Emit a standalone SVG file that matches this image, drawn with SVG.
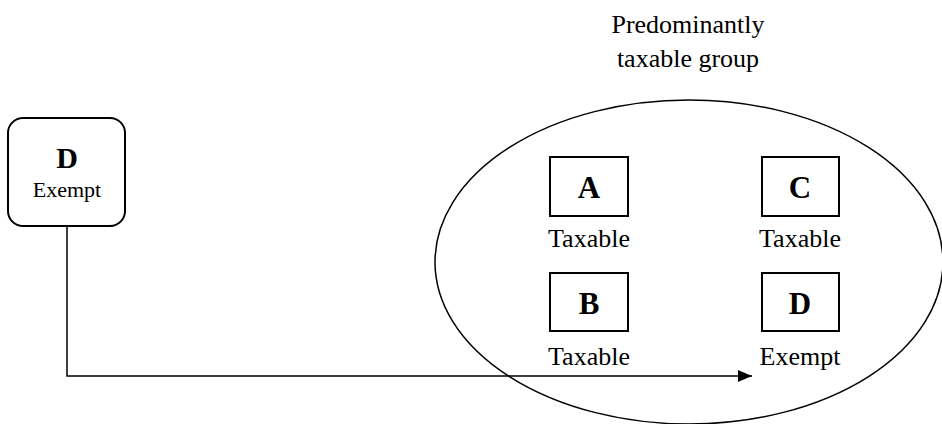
<svg xmlns="http://www.w3.org/2000/svg" width="942" height="424" viewBox="0 0 942 424">
<defs>
<style>
.box{fill:#fff;stroke:#000;stroke-width:2}
.let{font-family:"Liberation Serif",serif;font-weight:bold;font-size:31px;text-anchor:middle}
.lbl{font-family:"Liberation Serif",serif;font-size:26px;text-anchor:middle}
.ttl{font-family:"Liberation Serif",serif;font-size:26px;text-anchor:middle}
.ln{fill:none;stroke:#000;stroke-width:1.5}
</style>
<marker id="arr" markerWidth="14" markerHeight="12" refX="14" refY="6" orient="auto" markerUnits="userSpaceOnUse">
<path d="M0,0 L14,6 L0,12 Z" fill="#000"/>
</marker>
</defs>
<rect width="942" height="424" fill="#fff"/>
<g id="group">
<ellipse cx="689" cy="262" rx="254" ry="162" class="ln"/>
<text class="ttl" x="688" y="33">Predominantly</text>
<text class="ttl" x="688" y="67">taxable group</text>
</g>
<g id="connectors">
<path d="M67,226 L67,376 L752,376" class="ln" marker-end="url(#arr)"/>
</g>
<g id="nodeDext">
<rect x="8" y="118" width="117" height="108" rx="15" class="box"/>
<text class="let" x="67" y="168" style="font-size:30px">D</text>
<text class="lbl" x="67" y="197" style="font-size:22px">Exempt</text>
</g>
<g id="nodeA">
<rect x="550" y="157" width="78" height="59" class="box"/>
<text class="let" x="589" y="198">A</text>
<text class="lbl" x="589" y="247">Taxable</text>
</g>
<g id="nodeC">
<rect x="762" y="157" width="77" height="59" class="box"/>
<text class="let" x="800" y="198">C</text>
<text class="lbl" x="800" y="247">Taxable</text>
</g>
<g id="nodeB">
<rect x="550" y="273" width="78" height="58" class="box"/>
<text class="let" x="589" y="314">B</text>
<text class="lbl" x="589" y="365">Taxable</text>
</g>
<g id="nodeD">
<rect x="762" y="273" width="77" height="58" class="box"/>
<text class="let" x="800" y="314">D</text>
<text class="lbl" x="800" y="365">Exempt</text>
</g>
</svg>
